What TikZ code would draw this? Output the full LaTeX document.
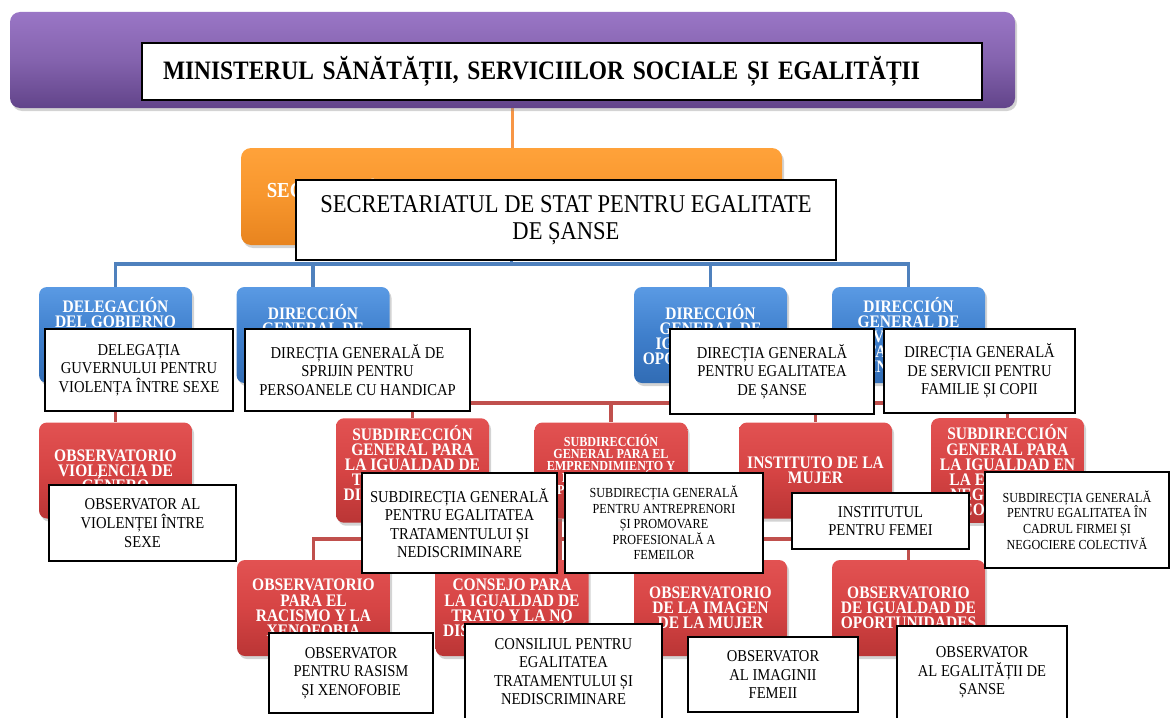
\documentclass[tikz,border=0pt]{standalone}
\usepackage{fontspec}
\setmainfont{Liberation Serif}[FakeStretch=0.88]
\usepackage{tikz}
\usetikzlibrary{shadows}
\newcommand{\tightlines}{\lineskiplimit=-5pt\relax}
\definecolor{purptop}{HTML}{9A76C6}
\definecolor{purpmid}{HTML}{8463AE}
\definecolor{purpbot}{HTML}{62448A}
\definecolor{orangetop}{HTML}{FFA23A}
\definecolor{orangemid}{HTML}{F7962D}
\definecolor{orangebot}{HTML}{E8841F}
\definecolor{bluetop}{HTML}{5A9AE4}
\definecolor{bluemid}{HTML}{3F7FCC}
\definecolor{bluebot}{HTML}{316CB4}
\definecolor{redtop}{HTML}{E25252}
\definecolor{redmid}{HTML}{D64444}
\definecolor{redbot}{HTML}{BA3535}
\definecolor{linkblue}{HTML}{4F81BD}
\definecolor{linkred}{HTML}{C0504D}
\definecolor{linkorange}{HTML}{F79646}
\tikzstyle{ministry} = [rectangle, rounded corners=5pt, minimum width=502.5pt, minimum height=48pt, top color=purptop, bottom color=purpbot, middle color=purpmid, drop shadow={opacity=0.35, shadow xshift=1pt, shadow yshift=-1.5pt}]
\tikzstyle{secretary} = [rectangle, rounded corners=5pt, minimum width=270.5pt, minimum height=48.5pt, align=center, text=white, font=\fontsize{10.7}{8.5}\selectfont\bfseries\tightlines, top color=orangetop, bottom color=orangebot, middle color=orangemid, drop shadow={opacity=0.35, shadow xshift=1pt, shadow yshift=-1.5pt}]
\tikzstyle{direction} = [rectangle, rounded corners=4pt, minimum width=76.5pt, minimum height=48pt, inner xsep=1pt, align=center, text=white, font=\fontsize{8.8}{7.5}\selectfont\bfseries\tightlines, top color=bluetop, bottom color=bluebot, middle color=bluemid, drop shadow={opacity=0.35, shadow xshift=1pt, shadow yshift=-1.5pt}]
\tikzstyle{office} = [rectangle, rounded corners=4pt, minimum width=76.5pt, minimum height=48pt, inner xsep=1pt, align=center, text=white, font=\fontsize{8.8}{7.6}\selectfont\bfseries\tightlines, top color=redtop, bottom color=redbot, middle color=redmid, drop shadow={opacity=0.35, shadow xshift=1pt, shadow yshift=-1.5pt}]
\tikzstyle{trans} = [rectangle, draw=black, line width=1pt, fill=white, align=center, font=\fontsize{8.3}{9.3}\selectfont]
\tikzstyle{transsmall} = [trans, font=\fontsize{6.9}{7.8}\selectfont]
\tikzstyle{bluelink} = [draw=linkblue, line width=1.8pt]
\tikzstyle{redlink} = [draw=linkred, line width=1.8pt]
\tikzstyle{orangelink} = [draw=linkorange, line width=1.6pt]
\pgfdeclarelayer{background}
\pgfsetlayers{background,main}

\begin{document}
\begin{tikzpicture}[x=0.5pt, y=-0.5pt]
\useasboundingbox (0,0) rectangle (1170,717);
\node (ministry) [ministry] at (512.5,60) {};
\node (secretariat) [secretary] at (511.5,196.5) {SECRETARÍA DE ESTADO DE SERVICIOS SOCIALES E\\IGUALDAD};
\node (deleg) [direction] at (115.5,335) {DELEGACIÓN\\DEL GOBIERNO\\PARA LA\\VIOLENCIA DE\\GÉNERO};
\node (dgdis) [direction] at (313,335) {DIRECCIÓN\\GENERAL DE\\APOYO A LA\\DISCAPACIDAD};
\node (dgigual) [direction] at (710.5,335) {DIRECCIÓN\\GENERAL DE\\IGUALDAD DE\\OPORTUNIDADES};
\node (dgfam) [direction] at (908.5,335) {DIRECCIÓN\\GENERAL DE\\SERVICIOS PARA\\LA FAMILIA Y LA\\INFANCIA};
\node (obsviol) [office] at (115.5,470.5) {OBSERVATORIO\\VIOLENCIA DE\\GÉNERO};
\node (sgtrato) [office] at (412.5,470.5) {SUBDIRECCIÓN\\GENERAL PARA\\LA IGUALDAD DE\\TRATO Y LA NO\\DISCRIMINACIÓN\\~};
\node (sgempr) [office, font=\fontsize{6.9}{6}\selectfont\bfseries\tightlines] at (611,470.5) {SUBDIRECCIÓN\\GENERAL PARA EL\\EMPRENDIMIENTO Y\\LA PROMOCIÓN\\PROFESIONAL DE\\LAS MUJERES};
\node (instmujer) [office] at (815.5,470.5) {INSTITUTO DE LA\\MUJER};
\node (sgempresa) [office] at (1007.5,470.5) {SUBDIRECCIÓN\\GENERAL PARA\\LA IGUALDAD EN\\LA EMPRESA Y\\NEGOCIACIÓN\\COLECTIVA};
\node (obsracismo) [office] at (313.5,608) {OBSERVATORIO\\PARA EL\\RACISMO Y LA\\XENOFOBIA};
\node (consejo) [office] at (512,608) {CONSEJO PARA\\LA IGUALDAD DE\\TRATO Y LA NO\\DISCRIMINACIÓN};
\node (obsimagen) [office] at (710.5,608) {OBSERVATORIO\\DE LA IMAGEN\\DE LA MUJER};
\node (obsigual) [office] at (908.5,608) {OBSERVATORIO\\DE IGUALDAD DE\\OPORTUNIDADES};

\node (tministry) [trans, font=\fontsize{13.3}{16}\selectfont\bfseries, minimum width=420pt, minimum height=28.5pt, text width=399pt, inner xsep=10.5pt, align=left, text height=8.5pt, text depth=0pt] at (562,71.5) {MINISTERUL SĂNĂTĂȚII, SERVICIILOR SOCIALE ȘI EGALITĂȚII};
\node (tsecret) [trans, font=\fontsize{12.8}{13.5}\selectfont, minimum width=270pt, minimum height=40pt] at (566,220) {SECRETARIATUL DE STAT PENTRU EGALITATE\\DE ȘANSE};
\node (tdeleg) [trans, minimum width=94pt, minimum height=41pt] at (139,370) {DELEGAȚIA\\GUVERNULUI PENTRU\\VIOLENȚA ÎNTRE SEXE};
\node (tdgdis) [trans, minimum width=112.5pt, minimum height=41pt] at (357.5,370) {DIRECȚIA GENERALĂ DE\\SPRIJIN PENTRU\\PERSOANELE CU HANDICAP};
\node (tdgigual) [trans, minimum width=102pt, minimum height=42.5pt] at (772,371.5) {DIRECȚIA GENERALĂ\\PENTRU EGALITATEA\\DE ȘANSE};
\node (tdgfam) [trans, minimum width=95.5pt, minimum height=42pt] at (979.5,371) {DIRECȚIA GENERALĂ\\DE SERVICII PENTRU\\FAMILIE ȘI COPII};
\node (tobsviol) [trans, minimum width=93.5pt, minimum height=38pt] at (142.5,523) {OBSERVATOR AL\\VIOLENȚEI ÎNTRE\\SEXE};
\node (tsgtrato) [trans, minimum width=97.5pt, minimum height=50pt] at (459.5,523) {SUBDIRECȚIA GENERALĂ\\PENTRU EGALITATEA\\TRATAMENTULUI ȘI\\NEDISCRIMINARE};
\node (tsgempr) [transsmall, minimum width=99pt, minimum height=50pt] at (664,523) {SUBDIRECȚIA GENERALĂ\\PENTRU ANTREPRENORI\\ȘI PROMOVARE\\PROFESIONALĂ A\\FEMEILOR};
\node (tinst) [trans, minimum width=88.5pt, minimum height=28pt] at (880.5,521) {INSTITUTUL\\PENTRU FEMEI};
\node (tsgempresa) [transsmall, minimum width=92pt, minimum height=48pt] at (1077,520) {SUBDIRECȚIA GENERALĂ\\PENTRU EGALITATEA ÎN\\CADRUL FIRMEI ȘI\\NEGOCIERE COLECTIVĂ};
\node (tobsrac) [trans, minimum width=82pt, minimum height=40pt] at (351,673) {OBSERVATOR\\PENTRU RASISM\\ȘI XENOFOBIE};
\node (tconsejo) [trans, minimum width=98.5pt, minimum height=47.5pt] at (563.5,671.5) {CONSILIUL PENTRU\\EGALITATEA\\TRATAMENTULUI ȘI\\NEDISCRIMINARE};
\node (tobsimg) [trans, minimum width=85pt, minimum height=37.5pt] at (773,674.5) {OBSERVATOR\\AL IMAGINII\\FEMEII};
\node (tobsig) [trans, minimum width=85pt, minimum height=46.5pt] at (982,672.5) {OBSERVATOR\\AL EGALITĂȚII DE\\ȘANSE};

\begin{pgfonlayer}{background}
\coordinate (busA) at (511.5,264);
\coordinate (busB) at (710.5,403);
\coordinate (busC) at (560,539);
\draw [orangelink] (ministry.south) -- (ministry.south |- secretariat.north);
\draw [bluelink] (secretariat.south) -- (busA);
\foreach \d in {deleg,dgdis,dgigual,dgfam}
  \draw [bluelink] (busA) -| (\d.north);
\draw [redlink] (deleg) -- (obsviol);
\draw [redlink] (dgigual.south) -- (busB);
\foreach \o in {sgtrato,sgempr,instmujer,sgempresa}
  \draw [redlink] (busB) -| (\o.north);
\draw [redlink] (sgempr.south -| busC) -- (busC |- consejo.north);
\foreach \o in {obsracismo,consejo,obsimagen,obsigual}
  \draw [redlink] (busC) -| (\o.north);
\end{pgfonlayer}
\end{tikzpicture}
\end{document}
